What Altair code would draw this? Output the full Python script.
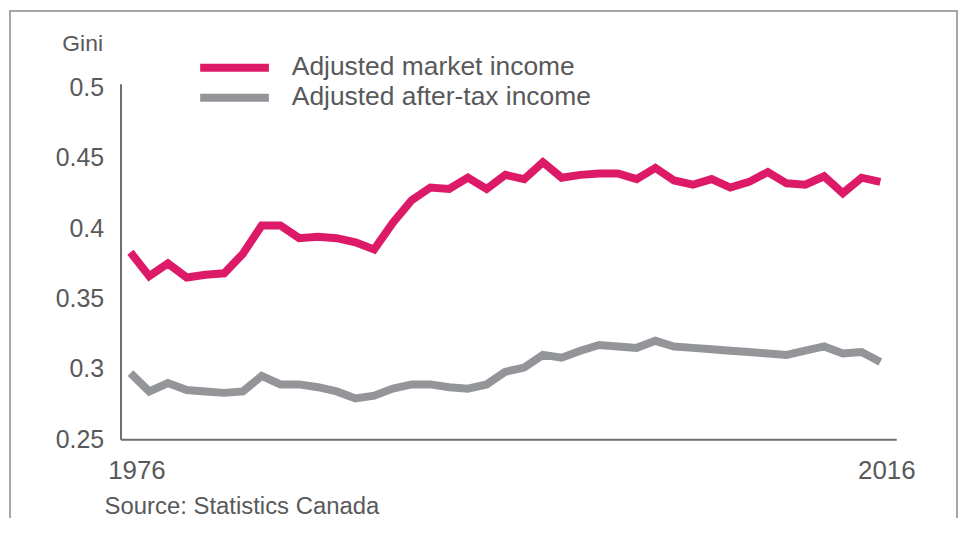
import altair as alt
import pandas as pd

years = list(range(1976, 2017))
market = [0.383, 0.366, 0.375, 0.365, 0.367, 0.368, 0.382, 0.402, 0.402, 0.393,
          0.394, 0.393, 0.390, 0.385, 0.404, 0.420, 0.429, 0.428, 0.436, 0.428,
          0.438, 0.435, 0.447, 0.436, 0.438, 0.439, 0.439, 0.435, 0.443, 0.434,
          0.431, 0.435, 0.429, 0.433, 0.440, 0.432, 0.431, 0.437, 0.425, 0.436,
          0.433]
aftertax = [0.297, 0.284, 0.290, 0.285, 0.284, 0.283, 0.284, 0.295, 0.289, 0.289,
            0.287, 0.284, 0.279, 0.281, 0.286, 0.289, 0.289, 0.287, 0.286, 0.289,
            0.298, 0.301, 0.310, 0.308, 0.313, 0.317, 0.316, 0.315, 0.320, 0.316,
            0.315, 0.314, 0.313, 0.312, 0.311, 0.310, 0.313, 0.316, 0.311, 0.312,
            0.305]
series = ["Adjusted market income", "Adjusted after-tax income"]
colors = ["#dc1a67", "#939598"]
y_ticks = [0.25, 0.3, 0.35, 0.4, 0.45, 0.5]
x_ticks = [1976, 2016]
source_text = ["Source: Statistics Canada"]

TEXT = "#58595b"
AXIS = "#6d6e71"
FONT = "Liberation Sans"

df = pd.DataFrame({
    "year": years * 2,
    "gini": market + aftertax,
    "series": [series[0]] * len(years) + [series[1]] * len(years),
})

lines = alt.Chart(df).mark_line(strokeWidth=8, strokeJoin="miter", strokeCap="butt").encode(
    x=alt.X("year:Q",
            scale=alt.Scale(domain=[1975.47, 2016.85], nice=False, zero=False),
            axis=alt.Axis(values=x_ticks, format="d", title=None, ticks=False,
                          labelFontSize=26, labelPadding=18, labelOffset=6,
                          labelColor=TEXT, labelFont=FONT, domainColor=AXIS,
                          domainWidth=2, grid=False, labelFlush=False)),
    y=alt.Y("gini:Q",
            scale=alt.Scale(domain=[0.25, 0.5028], nice=False, zero=False),
            axis=alt.Axis(values=y_ticks, format="~g", ticks=False,
                          labelFontSize=25, labelPadding=17, labelColor=TEXT,
                          labelFont=FONT, domainColor=AXIS, domainWidth=2,
                          grid=False, title="Gini", titleAngle=0, titleX=-59,
                          titleY=-40, titleAlign="left", titleBaseline="middle",
                          titleFontSize=23, titleFontWeight="normal",
                          titleColor=TEXT, titleFont=FONT)),
    color=alt.Color("series:N", scale=alt.Scale(domain=series, range=colors), legend=None),
    detail="series:N",
)

one = pd.DataFrame({"a": [0]})
layers = [lines]
leg_y = [-16, 14]
for i, name in enumerate(series):
    layers.append(alt.Chart(one).mark_rule(strokeWidth=8, strokeCap="butt").encode(
        x=alt.value(80), x2=alt.value(149), y=alt.value(leg_y[i]),
        color=alt.value(colors[i])))
    layers.append(alt.Chart(pd.DataFrame({"t": [name]})).mark_text(
        align="left", baseline="middle", fontSize=26.5, font=FONT, color=TEXT).encode(
        x=alt.value(172), y=alt.value(leg_y[i] - 1), text="t:N"))

layers.append(alt.Chart(pd.DataFrame({"t": source_text})).mark_text(
    align="left", baseline="middle", fontSize=24, font=FONT, color=TEXT).encode(
    x=alt.value(-16), y=alt.value(425), text="t:N"))

layers.append(alt.Chart(one).mark_rect(fillOpacity=0, stroke="#8a8a8a", strokeWidth=1.5).encode(
    x=alt.value(-111), x2=alt.value(840), y=alt.value(-73), y2=alt.value(600)))

chart = alt.layer(*layers).properties(
    width=779, height=357,
    background="white",
    autosize=alt.AutoSizeParams(type="none"),
    padding={"left": 113, "top": 75, "right": 62, "bottom": 78},
).configure_view(stroke=None)

chart.save("out.html", embed_options={"renderer": "svg", "actions": False})
